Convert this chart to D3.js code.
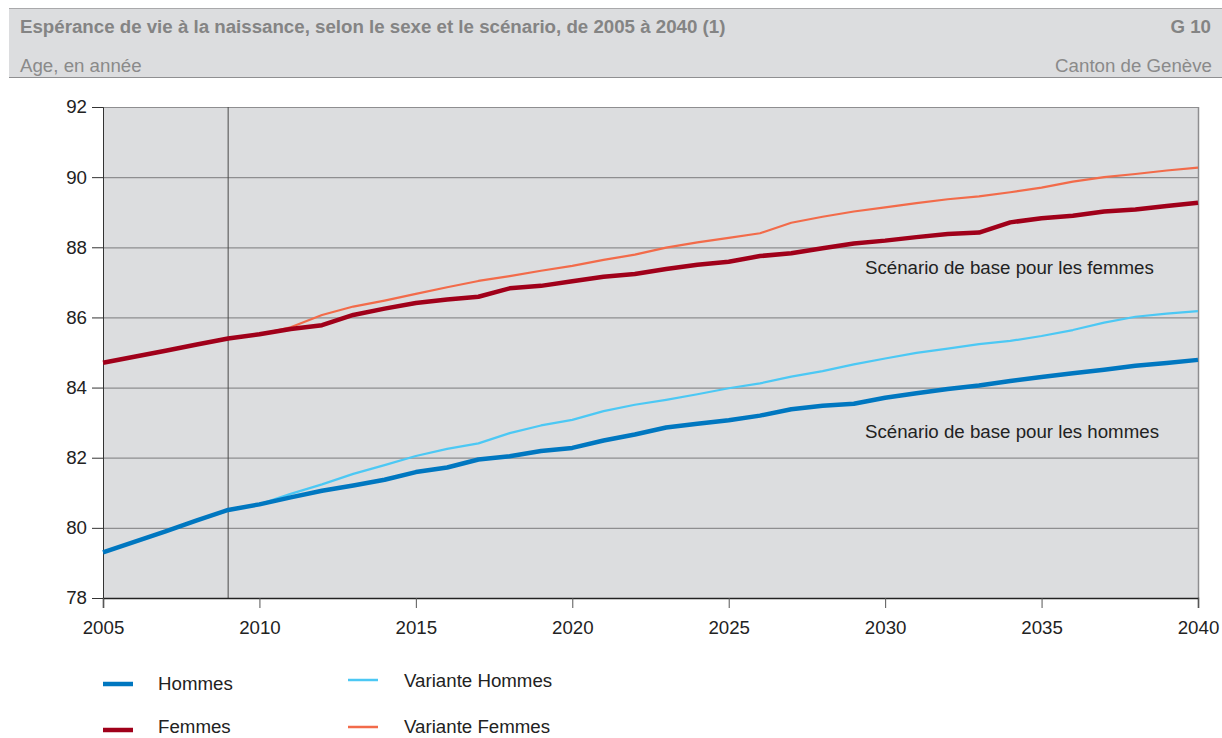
<!DOCTYPE html>
<html><head><meta charset="utf-8">
<script src="https://cdn.jsdelivr.net/npm/d3@7"></script>
<style>
body{margin:0;background:#fff;}
svg{display:block;font-family:"Liberation Sans",Arial,sans-serif;}
</style></head><body>
<svg id="c" width="1222" height="738"></svg>
<script>
const years = d3.range(2005, 2041);
const hommes = [79.30,79.60,79.90,80.21,80.51,80.67,80.87,81.06,81.21,81.37,81.59,81.72,81.95,82.04,82.19,82.28,82.49,82.66,82.86,82.97,83.07,83.20,83.38,83.48,83.54,83.71,83.84,83.96,84.06,84.19,84.30,84.41,84.51,84.62,84.70,84.79];
const femmes = [84.71,84.88,85.05,85.23,85.40,85.52,85.67,85.78,86.07,86.25,86.41,86.51,86.59,86.83,86.90,87.03,87.16,87.24,87.38,87.50,87.59,87.75,87.83,87.97,88.11,88.19,88.29,88.38,88.42,88.71,88.83,88.90,89.02,89.08,89.18,89.27];
const varianteHommesYears = d3.range(2009, 2041);
const varianteHommes = [80.51,80.67,80.97,81.24,81.54,81.79,82.05,82.25,82.41,82.70,82.92,83.08,83.33,83.51,83.65,83.81,83.98,84.12,84.31,84.47,84.66,84.83,84.99,85.11,85.24,85.33,85.47,85.64,85.85,86.02,86.11,86.18];
const varianteFemmesYears = d3.range(2009, 2041);
const varianteFemmes = [85.40,85.52,85.72,86.07,86.31,86.48,86.67,86.86,87.04,87.18,87.33,87.47,87.64,87.79,87.99,88.14,88.27,88.40,88.70,88.87,89.02,89.14,89.26,89.37,89.45,89.57,89.70,89.87,90.00,90.09,90.19,90.27];
const yTicks = [78,80,82,84,86,88,90,92];
const xTicks = [2005,2010,2015,2020,2025,2030,2035,2040];
const title = "Espérance de vie à la naissance, selon le sexe et le scénario, de 2005 à 2040 (1)";
const code = "G 10";
const subtitle = "Age, en année";
const region = "Canton de Genève";
const legendItems = ["Hommes","Femmes","Variante Hommes","Variante Femmes"];
const annotations = ["Scénario de base pour les femmes","Scénario de base pour les hommes"];

const FS = 18.7;
const svg = d3.select("#c");
const L=103, R=1198, T=107, B=598;
const x = d3.scaleLinear().domain([2005,2040]).range([L,R]);
const y = d3.scaleLinear().domain([78,92]).range([B,T]);

// header
svg.append("rect").attr("x",9).attr("y",8).attr("width",1213).attr("height",69).attr("fill","#dcdddf");
svg.append("line").attr("x1",9).attr("x2",1222).attr("y1",8.5).attr("y2",8.5).attr("stroke","#a9a9ab");
svg.append("line").attr("x1",9).attr("x2",1222).attr("y1",77.5).attr("y2",77.5).attr("stroke","#8f8f91");
svg.append("text").attr("x",20).attr("y",33).attr("font-size",FS).attr("font-weight","bold").attr("fill","#848484").text(title);
svg.append("text").attr("x",1211).attr("y",33).attr("text-anchor","end").attr("font-size",FS).attr("font-weight","bold").attr("fill","#848484").text(code);
svg.append("text").attr("x",20).attr("y",72).attr("font-size",FS).attr("fill","#8a8a8a").text(subtitle);
svg.append("text").attr("x",1212).attr("y",72).attr("text-anchor","end").attr("font-size",FS).attr("fill","#8a8a8a").text(region);

// plot bg
svg.append("rect").attr("x",L).attr("y",T).attr("width",R-L).attr("height",B-T).attr("fill","#dcdddf");
// gridlines
svg.append("g").selectAll("line").data(yTicks.slice(1)).join("line")
  .attr("x1",L).attr("x2",R).attr("y1",d=>y(d)+0.5).attr("y2",d=>y(d)+0.5)
  .attr("stroke","#8e8e90").attr("stroke-width",1.2);
// right border
svg.append("line").attr("x1",R+0.5).attr("x2",R+0.5).attr("y1",T).attr("y2",B).attr("stroke","#8e8e90").attr("stroke-width",1.5);
// 2009 vertical line
svg.append("line").attr("x1",x(2009)).attr("x2",x(2009)).attr("y1",T).attr("y2",B).attr("stroke","#4a4a4a").attr("stroke-width",1);

// axes
const yAxis = d3.axisLeft(y).tickValues(yTicks).tickSize(11).tickPadding(5);
const gy = svg.append("g").attr("transform",`translate(${L},0)`).call(yAxis);
gy.select(".domain").attr("stroke","#333");
gy.selectAll(".tick line").attr("stroke","#333");
gy.selectAll("text").attr("font-size",FS).attr("fill","#222").attr("font-family","Liberation Sans, Arial, sans-serif");

const xAxis = d3.axisBottom(x).tickValues(xTicks).tickFormat(d3.format("d")).tickSize(10).tickPadding(13);
const gx = svg.append("g").attr("transform",`translate(0,${B})`).call(xAxis);
gx.select(".domain").attr("stroke","#222").attr("stroke-width",1.5);
gx.selectAll(".tick line").attr("stroke","#555");
gx.selectAll("text").attr("font-size",FS).attr("fill","#222").attr("font-family","Liberation Sans, Arial, sans-serif");

const line = d3.line().x(d=>x(d[0])).y(d=>y(d[1]));
function draw(ys, vals, color, w){
  svg.append("path").datum(ys.map((yr,i)=>[yr,vals[i]])).attr("d",line)
    .attr("fill","none").attr("stroke",color).attr("stroke-width",w).attr("stroke-linejoin","round");
}
const colors = ["#0077c0","#a0001a","#4cc8f4","#f26b4a"];
draw(varianteFemmesYears, varianteFemmes, colors[3], 2.2);
draw(years, femmes, colors[1], 4.5);
draw(varianteHommesYears, varianteHommes, colors[2], 2.2);
draw(years, hommes, colors[0], 4.5);

// annotations
svg.append("text").attr("x",865).attr("y",274).attr("font-size",FS).attr("fill","#222").text(annotations[0]);
svg.append("text").attr("x",865).attr("y",438).attr("font-size",FS).attr("fill","#222").text(annotations[1]);

// legend
const leg = [
  {lx:103, ly:684, ty:690, tx:158, w:4.5},
  {lx:103, ly:730, ty:733, tx:158, w:4.5},
  {lx:348, ly:680, ty:687, tx:404, w:2.5},
  {lx:348, ly:727, ty:733, tx:404, w:2.5}
];
leg.forEach((p,i)=>{
  svg.append("line").attr("x1",p.lx).attr("x2",p.lx+30).attr("y1",p.ly).attr("y2",p.ly).attr("stroke",colors[i]).attr("stroke-width",p.w);
  svg.append("text").attr("x",p.tx).attr("y",p.ty).attr("font-size",FS).attr("fill","#222").text(legendItems[i]);
});
</script>
</body></html>
